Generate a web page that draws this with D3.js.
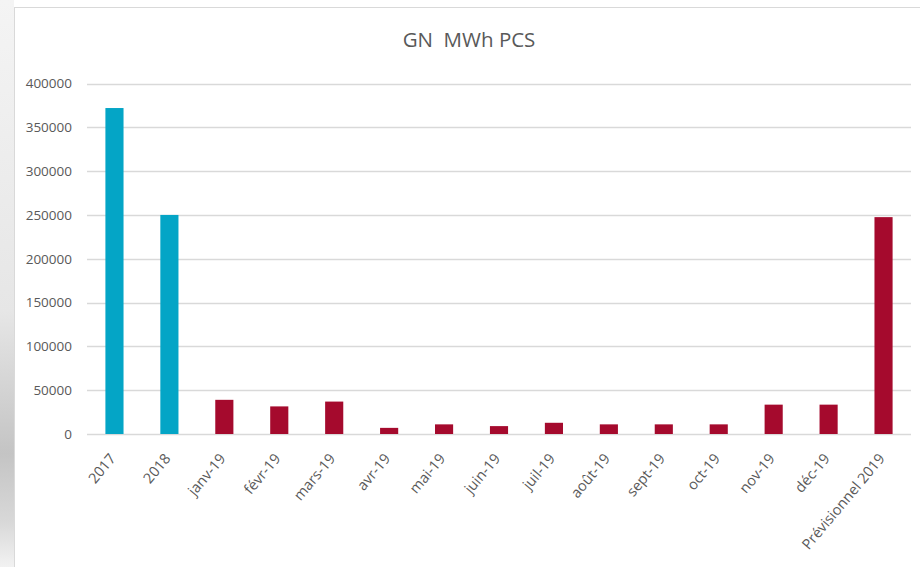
<!DOCTYPE html>
<html>
<head>
<meta charset="utf-8">
<script src="https://cdn.jsdelivr.net/npm/d3@7"></script>
<style>
  html, body { margin: 0; padding: 0; background: #fff; }
  svg { display: block; }
</style>
</head>
<body>
<svg id="chart" width="920" height="567"></svg>
<script>
const categories = ["2017", "2018", "janv-19", "févr-19", "mars-19", "avr-19", "mai-19", "juin-19", "juil-19", "août-19", "sept-19", "oct-19", "nov-19", "déc-19", "Prévisionnel 2019"];
const values = [372000, 250000, 39000, 31500, 37000, 7000, 11000, 9000, 12800, 11000, 11000, 11000, 33500, 33500, 247500];
const seriesGroup = ["hist", "hist", "m", "m", "m", "m", "m", "m", "m", "m", "m", "m", "m", "m", "m"];
const yTicks = [0, 50000, 100000, 150000, 200000, 250000, 300000, 350000, 400000];
const title = "GN  MWh PCS";

const svg = d3.select("#chart");
const W = 920, H = 567;

// shadow on left edge
const defs = svg.append("defs");
const g1 = defs.append("linearGradient").attr("id", "shadow").attr("x1", 0).attr("y1", 0).attr("x2", 0).attr("y2", 1);
g1.append("stop").attr("offset", "0%").attr("stop-color", "#f4f4f4");
g1.append("stop").attr("offset", "55%").attr("stop-color", "#e6e6e6");
g1.append("stop").attr("offset", "80%").attr("stop-color", "#c4c4c4");
g1.append("stop").attr("offset", "92%").attr("stop-color", "#d8d8d8");
g1.append("stop").attr("offset", "100%").attr("stop-color", "#f2f2f2");
svg.append("rect").attr("x", 0).attr("y", 0).attr("width", 14).attr("height", H).attr("fill", "url(#shadow)");

// frame
svg.append("rect").attr("x", 14.5).attr("y", 7.5).attr("width", W).attr("height", H)
  .attr("fill", "#fff").attr("stroke", "#d9d9d9").attr("stroke-width", 1);

const margin = { left: 87, right: 9 };
const x = d3.scaleBand().domain(categories).range([margin.left, W - margin.right]).paddingInner(0.67).paddingOuter(0.335);
const y = d3.scaleLinear().domain([0, 400000]).range([434, 83.5]);

// gridlines
svg.append("g").selectAll("line").data(yTicks).join("line")
  .attr("x1", margin.left).attr("x2", W - margin.right)
  .attr("y1", d => Math.round(y(d)) + 0.5).attr("y2", d => Math.round(y(d)) + 0.5)
  .attr("stroke", "#d9d9d9").attr("stroke-width", 1.3);

// y axis labels
const yAxis = d3.axisLeft(y).tickValues(yTicks).tickSize(0).tickPadding(0).tickFormat(d3.format("d"));
const ya = svg.append("g").attr("transform", `translate(${margin.left - 15},0)`).call(yAxis);
ya.select(".domain").remove();
ya.selectAll("text").attr("fill", "#595959").style("font-family", "'Open Sans', sans-serif").style("font-size", "13.5px");

// bars
svg.append("g").selectAll("rect").data(categories).join("rect")
  .attr("x", d => x(d)).attr("width", x.bandwidth())
  .attr("y", (d, i) => y(values[i])).attr("height", (d, i) => y(0) - y(values[i]))
  .attr("fill", (d, i) => seriesGroup[i] === "hist" ? "#04A5C6" : "#A50A2D");

// x axis labels
const xAxis = d3.axisBottom(x).tickSize(0).tickPadding(0);
const xa = svg.append("g").attr("transform", `translate(0,${y(0)})`).call(xAxis);
xa.select(".domain").remove();
xa.selectAll("text")
  .attr("fill", "#595959").style("font-family", "'Open Sans', sans-serif").style("font-size", "14.5px")
  .attr("text-anchor", "end").attr("y", 0).attr("dy", "0")
  .attr("transform", "translate(2,25) rotate(-50)");

// title
svg.append("text").attr("x", 469).attr("y", 47).attr("text-anchor", "middle")
  .attr("fill", "#595959").style("font-family", "'Open Sans', sans-serif").style("font-size", "20.5px")
  .style("white-space", "pre").attr("xml:space", "preserve")
  .text(title);
</script>
</body>
</html>
